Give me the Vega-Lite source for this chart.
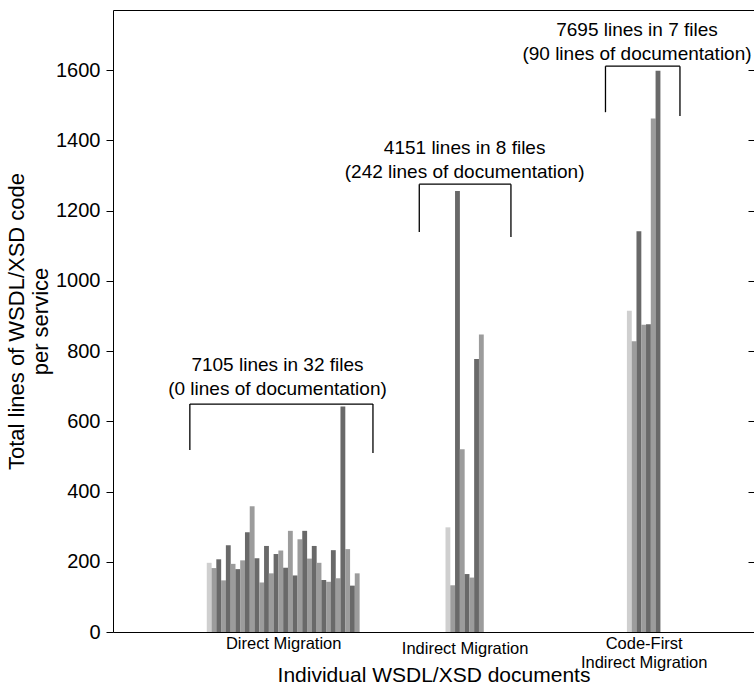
{
  "$schema": "https://vega.github.io/schema/vega-lite/v6.json",
  "autosize": {"type": "none"},
  "width": 641,
  "height": 622,
  "padding": {"left": 113, "top": 10, "right": 0, "bottom": 56},
  "background": "white",
  "config": {
    "view": {"stroke": null},
    "font": "Liberation Sans",
    "axis": {"labelFont": "Liberation Sans", "titleFont": "Liberation Sans", "labelColor": "#000", "titleColor": "#000", "domainColor": "#000", "tickColor": "#000", "grid": false, "titleFontWeight": "normal"}
  },
  "datasets": {
    "bars": [
      {"group": "Direct Migration", "file": 1, "doc": 1, "lines": 197},
      {"group": "Direct Migration", "file": 2, "doc": 2, "lines": 182},
      {"group": "Direct Migration", "file": 3, "doc": 3, "lines": 207},
      {"group": "Direct Migration", "file": 4, "doc": 4, "lines": 147},
      {"group": "Direct Migration", "file": 5, "doc": 5, "lines": 247},
      {"group": "Direct Migration", "file": 6, "doc": 6, "lines": 194},
      {"group": "Direct Migration", "file": 7, "doc": 7, "lines": 179},
      {"group": "Direct Migration", "file": 8, "doc": 8, "lines": 204},
      {"group": "Direct Migration", "file": 9, "doc": 9, "lines": 284},
      {"group": "Direct Migration", "file": 10, "doc": 10, "lines": 358},
      {"group": "Direct Migration", "file": 11, "doc": 11, "lines": 210},
      {"group": "Direct Migration", "file": 12, "doc": 12, "lines": 141},
      {"group": "Direct Migration", "file": 13, "doc": 13, "lines": 245},
      {"group": "Direct Migration", "file": 14, "doc": 14, "lines": 167},
      {"group": "Direct Migration", "file": 15, "doc": 15, "lines": 222},
      {"group": "Direct Migration", "file": 16, "doc": 16, "lines": 232},
      {"group": "Direct Migration", "file": 17, "doc": 17, "lines": 183},
      {"group": "Direct Migration", "file": 18, "doc": 18, "lines": 288},
      {"group": "Direct Migration", "file": 19, "doc": 19, "lines": 161},
      {"group": "Direct Migration", "file": 20, "doc": 20, "lines": 264},
      {"group": "Direct Migration", "file": 21, "doc": 21, "lines": 288},
      {"group": "Direct Migration", "file": 22, "doc": 22, "lines": 209},
      {"group": "Direct Migration", "file": 23, "doc": 23, "lines": 245},
      {"group": "Direct Migration", "file": 24, "doc": 24, "lines": 197},
      {"group": "Direct Migration", "file": 25, "doc": 25, "lines": 148},
      {"group": "Direct Migration", "file": 26, "doc": 26, "lines": 143},
      {"group": "Direct Migration", "file": 27, "doc": 27, "lines": 233},
      {"group": "Direct Migration", "file": 28, "doc": 28, "lines": 153},
      {"group": "Direct Migration", "file": 29, "doc": 29, "lines": 642},
      {"group": "Direct Migration", "file": 30, "doc": 30, "lines": 236},
      {"group": "Direct Migration", "file": 31, "doc": 31, "lines": 132},
      {"group": "Direct Migration", "file": 32, "doc": 32, "lines": 167},
      {"group": "Indirect Migration", "file": 1, "doc": 51, "lines": 298},
      {"group": "Indirect Migration", "file": 2, "doc": 52, "lines": 133},
      {"group": "Indirect Migration", "file": 3, "doc": 53, "lines": 1256},
      {"group": "Indirect Migration", "file": 4, "doc": 54, "lines": 520},
      {"group": "Indirect Migration", "file": 5, "doc": 55, "lines": 165},
      {"group": "Indirect Migration", "file": 6, "doc": 56, "lines": 155},
      {"group": "Indirect Migration", "file": 7, "doc": 57, "lines": 777},
      {"group": "Indirect Migration", "file": 8, "doc": 58, "lines": 847},
      {"group": "Code-First Indirect Migration", "file": 1, "doc": 89, "lines": 915},
      {"group": "Code-First Indirect Migration", "file": 2, "doc": 90, "lines": 828},
      {"group": "Code-First Indirect Migration", "file": 3, "doc": 91, "lines": 1141},
      {"group": "Code-First Indirect Migration", "file": 4, "doc": 92, "lines": 875},
      {"group": "Code-First Indirect Migration", "file": 5, "doc": 93, "lines": 876},
      {"group": "Code-First Indirect Migration", "file": 6, "doc": 94, "lines": 1462},
      {"group": "Code-First Indirect Migration", "file": 7, "doc": 95, "lines": 1598}
    ],
    "brackets": [
      {"group": "Direct Migration", "x": -3.05, "x2": 35.3, "y": 649, "y2": 649},
      {"group": "Direct Migration", "x": -3.05, "x2": -3.05, "y": 649, "y2": 518},
      {"group": "Direct Migration", "x": 35.3, "x2": 35.3, "y": 649, "y2": 510},
      {"group": "Indirect Migration", "x": 45.0, "x2": 64.2, "y": 1275, "y2": 1275},
      {"group": "Indirect Migration", "x": 45.0, "x2": 45.0, "y": 1275, "y2": 1139},
      {"group": "Indirect Migration", "x": 64.2, "x2": 64.2, "y": 1275, "y2": 1125},
      {"group": "Code-First Indirect Migration", "x": 84.0, "x2": 99.6, "y": 1611, "y2": 1611},
      {"group": "Code-First Indirect Migration", "x": 84.0, "x2": 84.0, "y": 1611, "y2": 1480},
      {"group": "Code-First Indirect Migration", "x": 99.6, "x2": 99.6, "y": 1611, "y2": 1469}
    ],
    "notes": [
      {"group": "Direct Migration", "text": "7105 lines in 32 files", "x": 15.3, "y": 760},
      {"group": "Direct Migration", "text": "(0 lines of documentation)", "x": 15.3, "y": 692},
      {"group": "Indirect Migration", "text": "4151 lines in 8 files", "x": 54.5, "y": 1378},
      {"group": "Indirect Migration", "text": "(242 lines of documentation)", "x": 54.5, "y": 1310},
      {"group": "Code-First Indirect Migration", "text": "7695 lines in 7 files", "x": 90.6, "y": 1714},
      {"group": "Code-First Indirect Migration", "text": "(90 lines of documentation)", "x": 90.6, "y": 1646}
    ]
  },
  "layer": [
    {
      "data": {"name": "bars"},
      "mark": {"type": "bar", "width": 4.85, "stroke": null},
      "encoding": {
        "x": {
          "field": "doc", "type": "quantitative",
          "scale": {"domain": [-18.1, 114.06], "nice": false, "zero": false},
          "axis": {
            "orient": "bottom", "values": [16.5, 54.5, 92], "ticks": false,
            "labelExpr": "datum.value < 30 ? 'Direct Migration' : datum.value < 70 ? 'Indirect Migration' : ['Code-First', 'Indirect Migration']",
            "labelFontSize": 16.5, "labelPadding": {"condition": {"test": "datum.value > 40 && datum.value < 70", "value": 8}, "value": 3},
            "labelLineHeight": 19,
            "title": "Individual WSDL/XSD documents", "titleFontSize": 21, "titlePadding": -6
          }
        },
        "y": {
          "field": "lines", "type": "quantitative",
          "scale": {"domain": [0, 1771], "nice": false},
          "axis": {
            "orient": "left", "values": [0, 200, 400, 600, 800, 1000, 1200, 1400, 1600], "format": "d",
            "labelFontSize": 20, "tickSize": 7, "labelPadding": 6,
            "title": ["Total lines of WSDL/XSD code", "per service"], "titleFontSize": 22, "titlePadding": 3, "titleLineHeight": 24
          }
        },
        "color": {
          "condition": [
            {"test": "datum.file == 1", "value": "#cfcfcf"},
            {"test": "datum.file % 2 == 0", "value": "#9c9c9c"}
          ],
          "value": "#696969"
        }
      }
    },
    {
      "data": {"name": "brackets"},
      "mark": {"type": "rule", "color": "#000", "strokeWidth": 1.3},
      "encoding": {
        "x": {"field": "x", "type": "quantitative", "axis": {"orient": "top", "ticks": false, "labels": false, "title": null, "domain": true}},
        "x2": {"field": "x2"},
        "y": {"field": "y", "type": "quantitative", "axis": {"orient": "right", "domain": false, "labels": false, "title": null, "tickSize": -6, "values": [0, 200, 400, 600, 800, 1000, 1200, 1400, 1600]}},
        "y2": {"field": "y2"}
      }
    },
    {
      "data": {"name": "notes"},
      "mark": {"type": "text", "fontSize": 19, "font": "Liberation Sans", "color": "#000", "baseline": "middle", "align": "center"},
      "encoding": {
        "x": {"field": "x", "type": "quantitative", "axis": null},
        "y": {"field": "y", "type": "quantitative", "axis": null},
        "text": {"field": "text"}
      }
    }
  ],
  "resolve": {"axis": {"x": "independent", "y": "independent"}}
}
